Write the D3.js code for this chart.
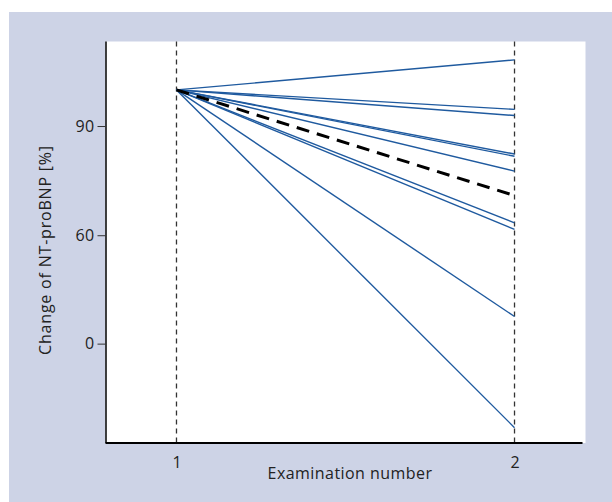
<!DOCTYPE html>
<html>
<head>
<meta charset="utf-8">
<script src="https://cdn.jsdelivr.net/npm/d3@7"></script>
<style>
  html, body { margin: 0; padding: 0; background: #ffffff; }
  svg { display: block; }
  text { font-family: "Open Sans", "Noto Sans", sans-serif; fill: #222; }
</style>
</head>
<body>
<svg id="chart" width="612" height="502"></svg>
<script>
// ---- data ----
const examinations = [1, 2];
const yTickValues = [0, 60, 90];
const yTickLabels = ["0", "60", "90"];
const xTickLabels = ["1", "2"];
// individual patients: value at exam 1 and exam 2 (% of baseline)
const patientStart = [100, 100, 100, 100, 100, 100, 100, 100, 100, 100];
const patientEnd = [108.3, 94.6, 92.9, 82.3, 81.7, 77.6, 63.4, 61.6, 15, -46.5];
// mean/median course (black dashed)
const meanValues = [100, 70.9];
const xLabel = "Examination number";
const yLabel = "Change of NT-proBNP [%]";

// ---- layout ----
const W = 612, H = 502;
const margin = { left: 105.5, right: 26.5, top: 41.5, bottom: 59 };
const iw = W - margin.left - margin.right;
const ih = H - margin.top - margin.bottom;
const FONT = '"Open Sans", "Noto Sans", sans-serif';

const svg = d3.select("#chart");
svg.append("rect").attr("x", 9).attr("y", 12).attr("width", W - 9).attr("height", H - 12)
  .attr("fill", "#cdd3e6");
svg.append("rect").attr("x", margin.left).attr("y", margin.top).attr("width", iw).attr("height", ih)
  .attr("fill", "#ffffff");

const g = svg.append("g").attr("transform", `translate(${margin.left},${margin.top})`);

const x = d3.scaleLinear().domain([0.79, 2.21]).range([0, iw]);
// piecewise axis as in the original figure
const y = d3.scaleLinear().domain([-55, 0, 60, 90, 113.4])
  .range([ih, ih * 0.7525, ih * 0.4825, ih * 0.2105, 0]);

// vertical dashed guide lines at each examination
g.selectAll("line.guide").data(examinations).join("line")
  .attr("class", "guide")
  .attr("x1", d => x(d)).attr("x2", d => x(d))
  .attr("y1", 0).attr("y2", ih)
  .attr("stroke", "#333").attr("stroke-width", 1.3)
  .attr("stroke-dasharray", "5,4");

// patient lines
const patients = patientStart.map((s, i) => [[examinations[0], s], [examinations[1], patientEnd[i]]]);
const line = d3.line().x(d => x(d[0])).y(d => y(d[1]));
g.selectAll("path.patient").data(patients).join("path")
  .attr("class", "patient")
  .attr("d", line)
  .attr("fill", "none")
  .attr("stroke", "#1f5a9f")
  .attr("stroke-width", 1.4);

// mean line
g.append("path")
  .datum(examinations.map((e, i) => [e, meanValues[i]]))
  .attr("d", line)
  .attr("fill", "none")
  .attr("stroke", "#000")
  .attr("stroke-width", 3)
  .attr("stroke-dasharray", "13,8");

// y axis
const yAxis = d3.axisLeft(y).tickValues(yTickValues)
  .tickFormat((d, i) => yTickLabels[i]).tickSize(8).tickPadding(3);
const ya = g.append("g").call(yAxis);
ya.select(".domain").attr("stroke", "#000").attr("stroke-width", 1.5)
  .attr("d", `M0.5,0V${ih}`);
ya.selectAll(".tick line").attr("stroke", "#333").attr("stroke-width", 1);
ya.selectAll(".tick text").attr("font-size", 16).attr("fill", "#222")
  .style("font-family", FONT).style("letter-spacing", "0.4px");

// x axis
const xAxis = d3.axisBottom(x).tickValues(examinations)
  .tickFormat((d, i) => xTickLabels[i]).tickSize(0).tickPadding(14);
const xa = g.append("g").attr("transform", `translate(0,${ih})`).call(xAxis);
xa.select(".domain").attr("stroke", "#000").attr("stroke-width", 1.8)
  .attr("d", `M0,0H${iw - 3}`);
xa.selectAll(".tick text").attr("font-size", 16).attr("fill", "#222")
  .style("font-family", FONT);

// axis titles
svg.append("text")
  .attr("x", 350).attr("y", 479)
  .attr("text-anchor", "middle")
  .attr("font-size", 16)
  .style("letter-spacing", "0.45px")
  .text(xLabel);
svg.append("text")
  .attr("transform", "translate(51,250) rotate(-90)")
  .attr("text-anchor", "middle")
  .attr("font-size", 16)
  .style("letter-spacing", "0.8px")
  .text(yLabel);
</script>
</body>
</html>
